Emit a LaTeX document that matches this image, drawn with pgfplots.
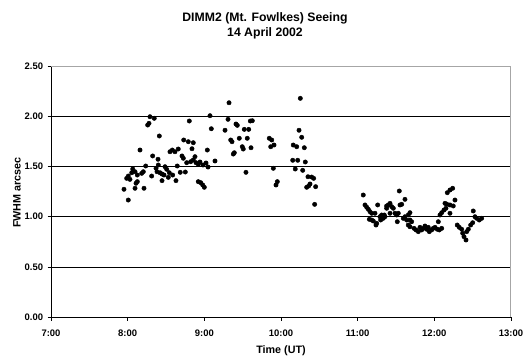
\documentclass[border=0pt]{standalone}
\usepackage{pgfplots}
\pgfplotsset{compat=1.18}
\usepackage{pgfplotstable}
\usepackage{fontspec}
\setmainfont{Liberation Sans}

\pgfplotstableread{
t y
8.291 1.995
8.347 1.979
8.261 1.912
8.278 1.929
8.413 1.803
8.161 1.663
8.804 1.952
8.731 1.763
8.791 1.746
8.856 1.736
8.326 1.604
8.396 1.571
8.552 1.646
8.582 1.663
8.617 1.646
8.660 1.673
8.839 1.676
8.709 1.604
8.726 1.581
8.878 1.597
8.856 1.564
8.822 1.547
8.770 1.537
8.891 1.537
8.921 1.521
8.235 1.504
8.370 1.481
8.400 1.514
8.487 1.497
8.509 1.471
8.647 1.504
8.752 1.444
8.686 1.441
8.066 1.474
8.096 1.447
8.053 1.437
8.183 1.431
8.008 1.404
7.987 1.381
8.126 1.414
8.422 1.437
8.448 1.424
8.474 1.414
8.543 1.437
8.587 1.414
8.313 1.404
8.126 1.348
8.109 1.332
8.448 1.358
8.530 1.391
8.630 1.358
8.921 1.348
7.952 1.272
8.096 1.282
8.213 1.282
8.008 1.165
8.204 1.447
8.383 1.447
8.030 1.371
8.953 1.338
8.979 1.315
9.000 1.292
9.074 2.005
9.091 1.875
9.039 1.663
9.139 1.554
8.943 1.544
8.983 1.514
9.022 1.534
9.048 1.494
9.322 2.134
9.309 1.969
9.270 1.860
9.413 1.922
9.430 1.909
9.600 1.952
9.626 1.955
9.344 1.763
9.361 1.746
9.456 1.780
9.560 1.780
9.521 1.869
9.579 1.869
9.495 1.696
9.508 1.673
9.609 1.686
9.378 1.623
9.391 1.636
9.543 1.441
9.847 1.780
9.879 1.763
9.866 1.696
9.909 1.713
9.900 1.481
9.935 1.315
9.952 1.348
10.252 2.178
10.235 1.860
10.270 1.790
10.160 1.713
10.205 1.696
10.304 1.686
10.153 1.561
10.218 1.561
10.317 1.544
10.186 1.474
10.283 1.461
10.352 1.397
10.400 1.394
10.426 1.381
10.378 1.325
10.361 1.305
10.335 1.292
10.452 1.298
10.439 1.122
}\early

\pgfplotstableread{
t y
11.073 1.215
11.096 1.116
11.118 1.093
11.139 1.073
11.161 1.049
11.183 1.033
11.152 0.973
11.183 0.966
11.204 0.956
11.239 0.916
11.226 1.033
11.261 1.116
11.291 0.999
11.313 1.016
11.334 0.983
11.356 0.999
11.300 0.966
11.378 1.083
11.400 1.116
11.422 1.132
11.444 1.099
11.465 1.083
11.543 1.255
11.552 1.116
11.574 1.122
11.617 1.172
11.487 1.033
11.509 1.016
11.517 0.949
11.595 0.983
11.617 0.999
11.682 1.039
11.660 1.016
11.639 0.966
11.682 0.966
11.704 0.949
11.660 0.916
11.682 0.899
11.735 0.883
11.761 0.867
11.791 0.850
11.813 0.893
11.856 0.883
11.900 0.874
11.835 0.867
11.878 0.906
11.921 0.893
11.934 0.850
11.965 0.867
11.986 0.883
12.009 0.893
12.039 0.874
12.052 0.949
12.065 0.867
12.096 0.883
12.074 1.016
12.096 1.039
12.126 1.066
12.152 1.083
12.169 1.238
12.204 1.265
12.239 1.282
12.139 1.132
12.161 1.125
12.204 1.116
12.247 1.106
12.269 1.165
12.204 1.033
12.299 0.916
12.325 0.893
12.357 0.874
12.370 0.834
12.387 0.800
12.413 0.767
12.422 0.850
12.443 0.874
12.474 0.916
12.500 0.939
12.508 1.056
12.530 0.999
12.552 0.983
12.586 0.966
12.617 0.983
11.378 1.106
11.530 1.033
11.248 0.933
11.422 1.033
11.347 1.016
}\late

\begin{document}
\begin{tikzpicture}
\begin{axis}[
  at={(0,0)}, anchor=south west,
  scale only axis, width=460bp, height=251bp,
  xmin=7, xmax=13, ymin=0, ymax=2.5,
  xtick={7,8,9,10,11,12,13},
  xticklabels={7:00,8:00,9:00,10:00,11:00,12:00,13:00},
  ytick={0,0.5,1,1.5,2,2.5},
  /pgf/number format/assume math mode=true,
  ymajorgrids, grid style={black, line width=0.6bp},
  axis x line*=bottom, axis y line*=left,
  axis line style={black, line width=0.8bp, -},
  tick align=outside, major tick length=3.5bp,
  tick style={black, line width=0.6bp},
  tick label style={font=\fontsize{9.5}{11}\selectfont\bfseries, inner sep=0pt},
  xticklabel style={anchor=base, yshift=-16.2bp},
  yticklabel style={anchor=east, xshift=-4.2bp,
    /pgf/number format/fixed, /pgf/number format/fixed zerofill,
    /pgf/number format/precision=2},
  clip=false,
]
\draw[gray!70, line width=1bp] (rel axis cs:0,1) -- (rel axis cs:1,1) -- (rel axis cs:1,0);
\addplot[only marks, mark=*, mark size=2.2bp, mark options={fill=black, draw=black}] table[x=t, y=y] {\early};
\addplot[only marks, mark=*, mark size=2.2bp, mark options={fill=black, draw=black}] table[x=t, y=y] {\late};
\end{axis}
\path[use as bounding box] (-51bp,-39bp) rectangle (478bp,317bp);
\node[anchor=base, inner sep=0pt, font=\fontsize{12.3}{14}\selectfont\bfseries] at (214bp,295bp) {DIMM2 (Mt. Fowlkes) Seeing};
\node[anchor=base, inner sep=0pt, font=\fontsize{12.3}{14}\selectfont\bfseries] at (214bp,280.5bp) {14 April 2002};
\node[anchor=base, inner sep=0pt, font=\fontsize{10.8}{13}\selectfont\bfseries] at (230bp,-36.7bp) {Time (UT)};
\node[anchor=base, rotate=90, inner sep=0pt, font=\fontsize{10.8}{13}\selectfont\bfseries] at (-30.3bp,124.5bp) {FWHM arcsec};
\end{tikzpicture}
\end{document}
